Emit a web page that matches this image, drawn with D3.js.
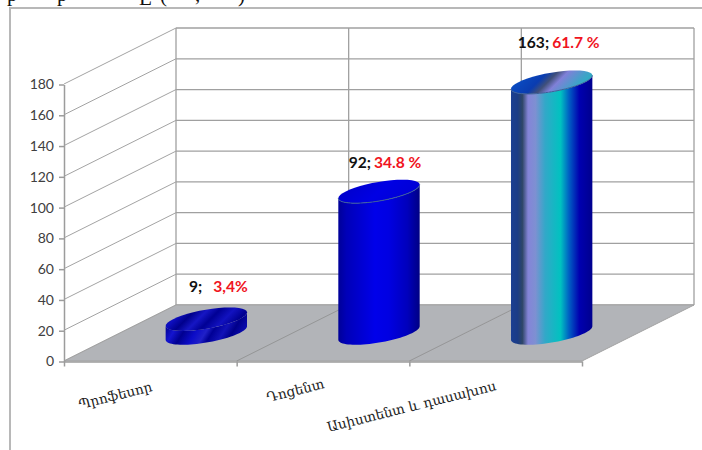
<!DOCTYPE html>
<meta charset="utf-8">
<style>
body { margin: 0; background: #fff; }
svg { display: block; }
.grid { stroke: #a0a0a0; stroke-width: 1.3; fill: none; }
.side { stroke: #a3a3a3; stroke-width: 1; fill: none; }
.axis path, .axis line { stroke: #9c9c9c; stroke-width: 1.5; }
.axis text { font-family: Lato, "Open Sans", sans-serif; font-size: 14px; fill: #404040; }
.cat { font-family: "DejaVu Serif", serif; font-size: 13.6px; fill: #222; }
.val { font-family: Lato, "Open Sans", sans-serif; font-size: 15.6px; font-weight: bold; fill: #111; }
.val tspan { fill: #f0141e; }
.rim { fill: none; stroke: #3c5f98; stroke-width: 1; }
</style>
<body>
<svg class="chart js-chart" width="702" height="450"></svg>

<script src="https://d3js.org/d3.v7.min.js"></script>
<script type="text/javascript">
"use strict";

var categories = ["Պրոֆեսոր", "Դոցենտ", "Ասիստենտ և դասախոս"];
var values = [9, 92, 163];
var percents = ["3,4%", "34.8 %", "61.7 %"];
var yTicks = [0, 20, 40, 60, 80, 100, 120, 140, 160, 180];
var catTicks = [0, 1, 2, 3];

// bits of the caption above, cut off by the top of the picture
var cutGlyphs = ["p", "p", "E", "(", ",", ")"];

// projection of the box: front left corner at (64,361), depth goes up and right
var y = d3.scaleLinear().domain([0, 180]).range([361, 84]);
var xCat = d3.scaleBand().domain(categories).range([64, 582]);
var xTick = d3.scaleLinear().domain([0, 3]).range([64, 582]);
var depthX = d3.scaleLinear().domain([0, 1]).range([0, 112]);
var depthY = d3.scaleLinear().domain([0, 1]).range([0, -56]);

var radiusX = 33.2, radiusZ = 0.21;

var svg = d3.select(".js-chart");
var defs = svg.append("defs");

function gradient (id, stops, coords) {
  var g = defs.append("linearGradient").attr("id", id);
  if (coords) {
    g.attr("gradientUnits", "userSpaceOnUse")
      .attr("x1", coords[0]).attr("y1", coords[1])
      .attr("x2", coords[2]).attr("y2", coords[3]);
  }
  stops.forEach(function (s) {
    g.append("stop").attr("offset", s[0]).attr("stop-color", s[1]);
  });
}

var bodyStops = [
  [[0, "#000090"], [0.07, "#0a0ac0"], [0.16, "#000088"], [0.27, "#1414d0"], [0.36, "#000090"], [0.47, "#0c0cc8"],
   [0.56, "#2020c8"], [0.62, "#000096"], [0.72, "#1212b8"], [0.8, "#00008a"], [0.9, "#0b0bb0"], [1, "#000080"]],
  [[0, "#000098"], [0.1, "#0000b8"], [0.45, "#0000ea"], [0.62, "#0000e2"], [0.85, "#0000bc"], [1, "#000084"]],
  [[0, "#1b3f92"], [0.08, "#1b3c86"], [0.14, "#2e4668"], [0.21, "#8484d8"], [0.3, "#7e90d2"], [0.42, "#32a8c8"],
   [0.61, "#00c2c0"], [0.71, "#0062c4"], [0.84, "#0000b0"], [1, "#00008e"]]
];
var topStops = [
  [[0, "#0000a0"], [0.18, "#0e0ec0"], [0.3, "#00008c"], [0.42, "#1616c4"], [0.54, "#000094"], [0.68, "#1212c0"],
   [0.82, "#000090"], [1, "#0c0cb0"]],
  [[0, "#0000c4"], [0.5, "#0000e4"], [1, "#0000d0"]],
  [[0, "#0a55cc"], [0.36, "#0a3cb0"], [0.46, "#40507a"], [0.56, "#8080d8"], [0.76, "#40a2c8"], [1, "#10c2b8"]]
];
var labelOffsets = [[12, -27], [6, -23], [7, -34]];

// back wall and side wall
var wall = svg.append("g");
yTicks.forEach(function (t) {
  wall.append("line").attr("class", "grid")
    .attr("x1", xTick(0) + depthX(1)).attr("x2", xTick(3) + depthX(1))
    .attr("y1", y(t) + depthY(1)).attr("y2", y(t) + depthY(1));
  wall.append("line").attr("class", "side")
    .attr("x1", xTick(0)).attr("x2", xTick(0) + depthX(1))
    .attr("y1", y(t)).attr("y2", y(t) + depthY(1));
});
catTicks.forEach(function (t) {
  wall.append("line").attr("class", "grid")
    .attr("x1", xTick(t) + depthX(1)).attr("x2", xTick(t) + depthX(1))
    .attr("y1", y(0) + depthY(1)).attr("y2", y(180) + depthY(1));
});

// floor
svg.append("path")
  .attr("d", d3.line()([
    [xTick(0), y(0)], [xTick(3), y(0)],
    [xTick(3) + depthX(1), y(0) + depthY(1)], [xTick(0) + depthX(1), y(0) + depthY(1)]
  ]) + "Z")
  .attr("fill", "#b2b4b8")
  .attr("stroke", "#a3a3a3")
  .attr("stroke-width", 1);
catTicks.slice(1, 3).forEach(function (t) {
  svg.append("line")
    .attr("x1", xTick(t)).attr("x2", xTick(t) + depthX(1))
    .attr("y1", y(0)).attr("y2", y(0) + depthY(1))
    .attr("stroke", "#8e8e8e").attr("stroke-width", 0.8);
});

// axes
svg.append("g").attr("class", "axis")
  .attr("transform", "translate(" + xTick(0) + ",0.5)")
  .call(d3.axisLeft(y).tickValues(yTicks).tickSize(5).tickPadding(5).tickSizeOuter(0));
svg.append("g").attr("class", "axis")
  .attr("transform", "translate(0," + (y(0) + 0.5) + ")")
  .call(d3.axisBottom(xTick).tickValues(catTicks).tickSize(5).tickSizeOuter(0).tickFormat(""));

// cylinders
var tilt = Math.atan2(depthX(radiusZ), radiusX);
function ellipsePoint (cx, cy, t) {
  return [
    cx + radiusX * Math.cos(t) + depthX(radiusZ) * Math.sin(t),
    cy + depthY(radiusZ) * Math.sin(t)
  ];
}
function arcPoints (cx, cy, from, to) {
  return d3.range(41).map(function (i) {
    return ellipsePoint(cx, cy, from + (to - from) * i / 40);
  });
}

categories.forEach(function (c, i) {
  var cx = xCat(c) + xCat.bandwidth() / 2 + depthX(0.5);
  var base = y(0) + depthY(0.5);
  var top = y(values[i]) + depthY(0.5);
  var half = Math.sqrt(radiusX * radiusX + depthX(radiusZ) * depthX(radiusZ));

  // the body shading runs across; the first bar's texture leans with the floor
  gradient("body" + i, bodyStops[i], i === 0
    ? [cx - half, top - 24, cx + half, base + 12]
    : [cx - half, 0, cx + half, 0]);
  gradient("top" + i, topStops[i], [cx - half * 0.62, top - half * 0.62, cx + half * 0.62, top + half * 0.62]);

  var outline = arcPoints(cx, base, tilt + 2 * Math.PI, tilt + Math.PI)
    .concat(arcPoints(cx, top, tilt + Math.PI, tilt + 2 * Math.PI));
  svg.append("path")
    .attr("d", d3.line()(outline) + "Z")
    .attr("fill", "url(#body" + i + ")");
  svg.append("path")
    .attr("d", d3.line()(arcPoints(cx, top, 0, 2 * Math.PI)) + "Z")
    .attr("fill", "url(#top" + i + ")");
  if (i > 0) {
    svg.append("path").attr("class", "rim")
      .attr("d", d3.line()(arcPoints(cx, top, tilt + Math.PI, tilt + 2 * Math.PI)));
  }

  // value; percent
  var label = svg.append("text").attr("class", "val")
    .attr("text-anchor", "middle")
    .attr("x", cx + labelOffsets[i][0])
    .attr("y", top + labelOffsets[i][1])
    .text(values[i] + ";");
  label.append("tspan").attr("dx", i === 0 ? 11 : 3).text(percents[i]);
});

// rotated category names
var catAnchors = [[153, 391], [325, 388], [497, 390]];
categories.forEach(function (c, i) {
  svg.append("text").attr("class", "cat")
    .attr("text-anchor", "end")
    .attr("transform", "translate(" + catAnchors[i] + ") rotate(-14)")
    .text(c);
});

// picture frame and cut off caption
svg.append("path")
  .attr("d", "M10,450V8H702")
  .attr("fill", "none").attr("stroke", "#b8b8b8").attr("stroke-width", 2);
var cutX = [7, 57, 139, 160, 195, 238];
var cutY = [1, 1, 5, 2, 1, 2];
cutGlyphs.forEach(function (g, i) {
  svg.append("text")
    .attr("x", cutX[i]).attr("y", cutY[i])
    .attr("font-family", "Liberation Serif").attr("font-size", 21).attr("fill", "#111")
    .text(g);
});
</script>
</body>
